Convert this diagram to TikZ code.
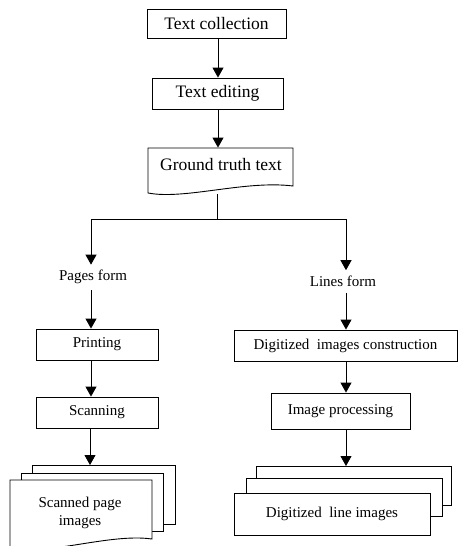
\documentclass[tikz,border=0pt]{standalone}
\usepackage{fontspec}
\setmainfont{Liberation Serif}
\usetikzlibrary{arrows.meta}
\begin{document}
\begin{tikzpicture}[x=1pt,y=-1pt,
  line width=0.9pt,
  bigfont/.style={font=\fontsize{17.5}{20}\selectfont},
  smallfont/.style={font=\fontsize{15}{18}\selectfont},
  box/.style={draw, inner sep=0pt, fill=white},
  plain/.style={inner sep=0pt},
  arr/.style={-{Triangle[length=10pt,width=11pt]}},
  sheet/.style={draw, fill=white}]
\useasboundingbox (0,0) rectangle (458,546);
% column coordinates
\coordinate (cc) at (218,0);
\coordinate (lc) at (91,0);
\coordinate (rc) at (346,0);
% top chain
\node[box,bigfont,minimum width=139pt,minimum height=29pt] (tc) at (216.5,23.5) {Text collection};
\node[box,bigfont,minimum width=131pt,minimum height=31pt] (te) at (217.5,93.5) {Text editing};
% ground truth document
\node[plain,minimum width=145pt,minimum height=45pt] (gtarea) at (220.5,170.5) {};
\draw[fill=white] (148,148) -- (293,148) -- (293,186) .. controls (245,180) and (185,200) .. (148,193) -- cycle;
\node[plain,bigfont] (gt) at (221,165) {Ground truth text};
\coordinate (gtb) at (217,194);
\coordinate (split) at (217,219);
% labels
\node[plain,smallfont] (pf) at (93,277) {Pages form};
\node[plain,smallfont] (lf) at (343,281) {Lines form};
% left column boxes
\node[box,smallfont,minimum width=122pt,minimum height=31pt] (pr) at (97,344.5) {Printing};
\node[box,smallfont,minimum width=122pt,minimum height=31pt] (sc) at (97,412.5) {Scanning};
% right column boxes
\node[box,smallfont,minimum width=223pt,minimum height=31pt] (dic) at (345.5,345.5) {Digitized\ \ images construction};
\node[box,smallfont,minimum width=139pt,minimum height=36pt] (ip) at (340.5,411) {Image processing};
% left stack
\draw[sheet] (32,465) rectangle (175,524);
\draw[sheet] (21,473) rectangle (163,531);
\draw[sheet] (10,480) -- (152,480) -- (152,539) .. controls (110,533) and (48,556) .. (10,548) -- cycle;
\node[plain,smallfont,align=center] (spi) at (80,513) {Scanned page\\images};
\coordinate (lstop) at (90,465);
% right stack
\draw[sheet] (256,466) rectangle (451,505);
\draw[sheet] (246,478) rectangle (442,516);
\node[box,smallfont,minimum width=196pt,minimum height=42pt] (dli) at (332,514) {Digitized\ \ line images};
\coordinate (rstop) at (346,466);
% connectors
\draw[arr] (tc.south -| cc) -- (te.north -| cc);
\draw[arr] (te.south -| cc) -- (gtarea.north -| cc);
\draw (gtb) -- (split);
\draw[arr] (split) -| ([yshift=5pt]pf.north -| lc);
\draw[arr] (split) -| ([yshift=5pt]lf.north -| rc);
\draw[arr] ([yshift=-6pt]pf.south -| lc) -- (pr.north -| lc);
\draw[arr] ([yshift=-6pt]lf.south -| rc) -- (dic.north -| rc);
\draw[arr] (pr.south -| lc) -- (sc.north -| lc);
\draw[arr] (sc.south -| lstop) -- (lstop);
\draw[arr] (dic.south -| rc) -- (ip.north -| rc);
\draw[arr] (ip.south -| rstop) -- (rstop);
\end{tikzpicture}
\end{document}
